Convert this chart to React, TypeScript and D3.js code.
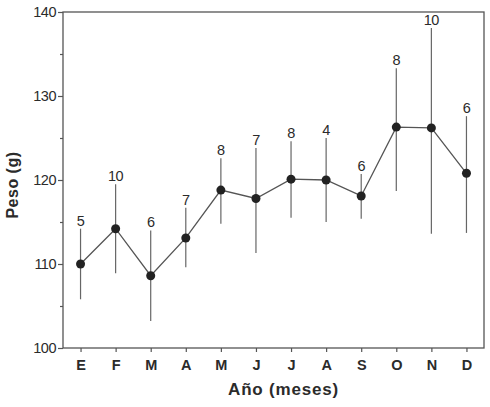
import { useEffect, useRef } from 'react'
import * as d3 from 'd3'

// data
const months = ['E', 'F', 'M', 'A', 'M', 'J', 'J', 'A', 'S', 'O', 'N', 'D']
const means = [110.0, 114.2, 108.6, 113.1, 118.8, 117.8, 120.1, 120.0, 118.1, 126.3, 126.2, 120.8]
const upper = [114.2, 119.5, 114.0, 116.7, 122.6, 123.8, 124.6, 125.0, 120.7, 133.3, 138.1, 127.6]
const lower = [105.8, 108.9, 103.2, 109.6, 114.8, 111.3, 115.5, 115.0, 115.4, 118.7, 113.6, 113.7]
const counts = [5, 10, 6, 7, 8, 7, 8, 4, 6, 8, 10, 6]
const yMajor = [100, 110, 120, 130, 140]
const yMinor = [105, 115, 125, 135]

const FONT = 'Arial, "Liberation Sans", Helvetica, sans-serif'
const INK = '#2b2b2b'
const LINE = '#555'

export default function App() {
  const svgRef = useRef<SVGSVGElement>(null)

  useEffect(() => {
    if (!svgRef.current) return
    const W = 490
    const H = 407
    const margin = { top: 12, right: 6, bottom: 59, left: 63 }
    const iw = W - margin.left - margin.right
    const ih = H - margin.top - margin.bottom

    const svg = d3.select(svgRef.current)
    svg.selectAll('*').remove()

    const g = svg.append('g').attr('transform', `translate(${margin.left},${margin.top})`)

    const idx = months.map((_, i) => String(i))
    const x = d3.scalePoint<string>().domain(idx).range([0, iw]).padding(0.5)
    const y = d3.scaleLinear().domain([100, 140]).range([ih, 0])

    // frame
    g.append('rect')
      .attr('x', 0).attr('y', 0)
      .attr('width', iw).attr('height', ih)
      .attr('fill', 'none')
      .attr('stroke', LINE)
      .attr('stroke-width', 1.3)

    // y axis major
    const yAx = g.append('g')
      .call(d3.axisLeft(y).tickValues(yMajor).tickSize(5).tickPadding(2).tickFormat(d3.format('d')))
    yAx.select('.domain').remove()
    yAx.selectAll('line').attr('stroke', LINE).attr('stroke-width', 1.2)
    yAx.selectAll('text')
      .attr('fill', INK)
      .attr('font-family', FONT)
      .attr('font-size', '14.5px')
      .attr('letter-spacing', '-0.5px')

    // y axis minor
    const yMin = g.append('g')
      .call(d3.axisLeft(y).tickValues(yMinor).tickSize(3).tickFormat(() => ''))
    yMin.select('.domain').remove()
    yMin.selectAll('line').attr('stroke', LINE).attr('stroke-width', 1.2)

    // x axis
    const xAx = g.append('g')
      .attr('transform', `translate(0,${ih})`)
      .call(d3.axisBottom(x).tickSize(4).tickPadding(8).tickFormat(d => months[+d]))
    xAx.select('.domain').remove()
    xAx.selectAll('line').attr('stroke', LINE).attr('stroke-width', 1.2)
    xAx.selectAll('text')
      .attr('fill', INK)
      .attr('font-family', FONT)
      .attr('font-size', '14.5px')
      .attr('font-weight', 'bold')

    // error bars
    g.append('g')
      .selectAll('line')
      .data(idx)
      .join('line')
      .attr('x1', d => x(d)!).attr('x2', d => x(d)!)
      .attr('y1', d => y(upper[+d])).attr('y2', d => y(lower[+d]))
      .attr('stroke', '#666')
      .attr('stroke-width', 1.2)

    // mean line
    const line = d3.line<string>()
      .x(d => x(d)!)
      .y(d => y(means[+d]))
    g.append('path')
      .datum(idx)
      .attr('d', line)
      .attr('fill', 'none')
      .attr('stroke', LINE)
      .attr('stroke-width', 1.3)

    // points
    g.append('g')
      .selectAll('circle')
      .data(idx)
      .join('circle')
      .attr('cx', d => x(d)!)
      .attr('cy', d => y(means[+d]))
      .attr('r', 4.5)
      .attr('fill', '#222')

    // sample sizes
    g.append('g')
      .selectAll('text')
      .data(idx)
      .join('text')
      .attr('x', d => x(d)!)
      .attr('y', d => y(upper[+d]) - 3)
      .attr('text-anchor', 'middle')
      .attr('fill', INK)
      .attr('font-family', FONT)
      .attr('font-size', '14.5px')
      .attr('letter-spacing', '-0.5px')
      .text(d => counts[+d])

    // axis titles
    g.append('text')
      .attr('transform', 'rotate(-90)')
      .attr('x', -(y(120) + 5)).attr('y', -45)
      .attr('text-anchor', 'middle')
      .attr('fill', INK)
      .attr('font-family', FONT)
      .attr('font-size', '16px')
      .attr('font-weight', 'bold')
      .attr('letter-spacing', '0.5px')
      .text('Peso (g)')

    g.append('text')
      .attr('x', iw / 2 + 10).attr('y', ih + 47)
      .attr('text-anchor', 'middle')
      .attr('fill', INK)
      .attr('font-family', FONT)
      .attr('font-size', '17px')
      .attr('font-weight', 'bold')
      .attr('letter-spacing', '0.8px')
      .text('Año (meses)')
  }, [])

  return (
    <div style={{ position: 'absolute', left: 0, top: 0, width: 490, height: 407, background: '#fff' }}>
      <svg ref={svgRef} width={490} height={407} style={{ display: 'block' }} />
    </div>
  )
}
